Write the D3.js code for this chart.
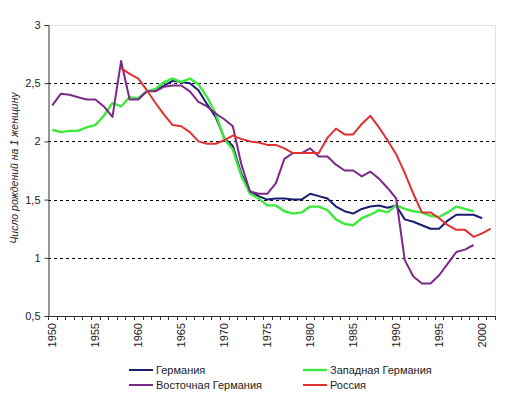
<!DOCTYPE html>
<html><head><meta charset="utf-8">
<script src="https://cdn.jsdelivr.net/npm/d3@7"></script>
<style>
body{margin:0;background:#fff;}
svg{font-family:"Liberation Sans",Arial,sans-serif;}
</style></head>
<body><svg id="c" width="510" height="399"></svg>
<script>
const years = d3.range(1950, 2002);
const xTickLabels = [1950,1955,1960,1965,1970,1975,1980,1985,1990,1995,2000];
const yTicks = [0.5,1,1.5,2,2.5,3];

// Германия (1960-2000)
const germanyStart = 1960;
const germany = [2.37,2.43,2.44,2.48,2.52,2.51,2.50,2.44,2.32,2.21,2.03,1.96,1.72,1.57,1.53,1.50,1.51,1.51,1.50,1.50,
  1.55,1.53,1.51,1.44,1.40,1.38,1.42,1.44,1.45,1.43,1.45,1.33,1.31,1.28,1.25,1.25,1.32,1.37,1.37,1.37,1.34];
// Западная Германия (1950-1999)
const westStart = 1950;
const west = [2.10,2.08,2.09,2.09,2.12,2.14,2.22,2.33,2.30,2.38,2.37,2.43,2.45,2.51,2.54,2.51,2.54,2.49,2.38,2.24,
  2.02,1.93,1.70,1.55,1.51,1.45,1.45,1.40,1.38,1.39,1.44,1.44,1.41,1.33,1.29,1.28,1.34,1.37,1.41,1.39,
  1.45,1.42,1.40,1.39,1.36,1.35,1.39,1.44,1.42,1.40];
// Восточная Германия (1950-1999)
const eastStart = 1950;
const east = [2.31,2.41,2.40,2.38,2.36,2.36,2.30,2.21,2.69,2.36,2.36,2.43,2.43,2.47,2.48,2.48,2.43,2.34,2.30,2.24,
  2.19,2.13,1.80,1.57,1.55,1.55,1.64,1.85,1.90,1.90,1.94,1.87,1.87,1.80,1.75,1.75,1.70,1.74,1.68,1.60,
  1.51,0.98,0.84,0.78,0.78,0.85,0.95,1.05,1.07,1.11];
// Россия (1958-2001)
const russiaStart = 1958;
const russia = [2.63,2.58,2.54,2.44,2.33,2.23,2.14,2.13,2.08,2.00,1.98,1.98,2.01,2.05,2.02,2.00,1.99,1.97,1.97,1.94,
  1.90,1.90,1.90,1.90,2.03,2.11,2.06,2.06,2.15,2.22,2.12,2.01,1.89,1.73,1.55,1.39,1.39,1.34,1.28,1.24,
  1.24,1.18,1.21,1.25];

const seriesNames = ["Германия","Западная Германия","Восточная Германия","Россия"];
const seriesColors = ["#1c1c72","#3ee83e","#7c2888","#e03030"];
const seriesData = [[germanyStart,germany],[westStart,west],[eastStart,east],[russiaStart,russia]];

const svg = d3.select("#c");
const L=48, R=495, T=25, B=316;
const x = d3.scaleBand().domain(years).range([L,R]).padding(0);
const y = d3.scaleLinear().domain([0.5,3]).range([B,T]);
const cx = yr => x(yr) + x.bandwidth()/2;

// plot border (light)
svg.append("line").attr("x1",L).attr("x2",R).attr("y1",T+0.5).attr("y2",T+0.5).attr("stroke","#e4e4e4");
svg.append("line").attr("x1",R+0.5).attr("x2",R+0.5).attr("y1",T).attr("y2",B).attr("stroke","#e4e4e4");

// gridlines
svg.append("g").selectAll("line").data(yTicks.filter(v=>v>0.5 && v<3)).join("line")
  .attr("x1",L).attr("x2",R).attr("y1",d=>Math.round(y(d))+0.5).attr("y2",d=>Math.round(y(d))+0.5)
  .attr("stroke","#000").attr("stroke-dasharray","3,3").attr("stroke-width",1);

// y axis
const yAxis = d3.axisLeft(y).tickValues(yTicks).tickSize(4).tickPadding(4)
  .tickFormat(d=>String(d).replace(".",","));
const gy = svg.append("g").attr("transform",`translate(${L+0.5},0)`).call(yAxis);
gy.select(".domain").attr("stroke","#333");
gy.selectAll(".tick line").attr("stroke","#333");
gy.selectAll("text").attr("font-size",11).attr("fill","#222").attr("font-family","Liberation Sans, Arial, sans-serif");

// x axis line + boundary ticks
svg.append("line").attr("x1",L).attr("x2",R+1).attr("y1",B+0.5).attr("y2",B+0.5).attr("stroke","#333");
svg.append("g").selectAll("line").data(years.concat([null])).join("line")
  .attr("x1",(d)=>Math.round(d===null? R : x(d))+0.5).attr("x2",(d)=>Math.round(d===null? R : x(d))+0.5)
  .attr("y1",B).attr("y2",B+4).attr("stroke","#333");
// x labels
svg.append("g").selectAll("text").data(xTickLabels).join("text")
  .attr("transform",d=>`translate(${cx(d)+4},${B+7}) rotate(-90)`)
  .attr("text-anchor","end").attr("font-size",11).attr("fill","#222").text(d=>d);

// y title
svg.append("text").attr("transform",`translate(18,168) rotate(-90)`)
  .attr("text-anchor","middle").attr("font-size",10.5).attr("font-style","italic").attr("fill","#222")
  .text("Число рождений на 1 женщину");

// lines
const line = d3.line().x(d=>cx(d[0])).y(d=>y(d[1]));
seriesData.forEach(([start,vals],i)=>{
  const pts = vals.map((v,k)=>[start+k,v]);
  svg.append("path").datum(pts).attr("d",line).attr("fill","none")
    .attr("stroke",seriesColors[i]).attr("stroke-width", i===1?2.4:2).attr("stroke-linejoin","round");
});

// legend
const legPos = [[129,370],[303,370],[129,385],[303,385]];
seriesNames.forEach((n,i)=>{
  const [lx,ly]=legPos[i];
  svg.append("line").attr("x1",lx).attr("x2",lx+24).attr("y1",ly).attr("y2",ly)
    .attr("stroke",seriesColors[i]).attr("stroke-width",i===1?2.4:2);
  svg.append("text").attr("x",lx+27).attr("y",ly+4).attr("font-size",11).attr("fill","#222").text(n);
});
</script></body></html>
